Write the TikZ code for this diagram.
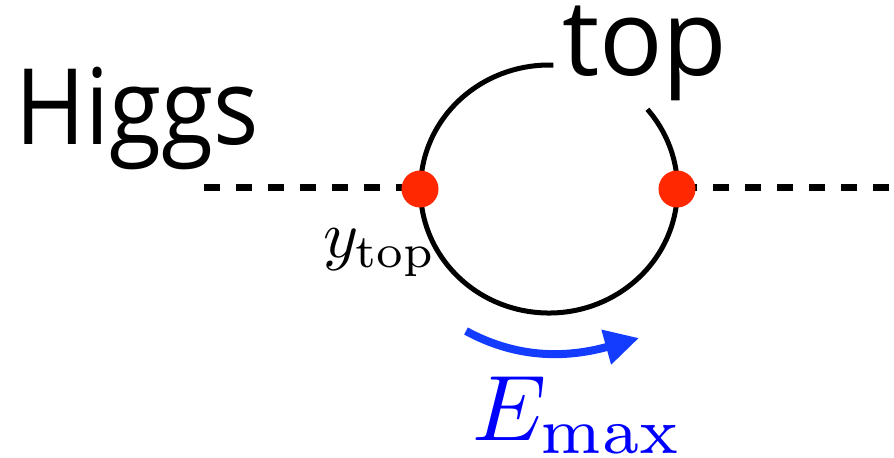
\documentclass[tikz,border=0pt]{standalone}
\usepackage{fontspec}
\setsansfont{Open Sans}
\usepackage{graphicx}
\usetikzlibrary{arrows.meta}
\definecolor{vred}{RGB}{255,40,0}
\definecolor{eblue}{RGB}{20,60,255}
\begin{document}
\begin{tikzpicture}[x=0.01cm,y=-0.01cm,
  lbl/.style={inner sep=0pt, outer sep=0pt},
  vertex/.style={circle, fill=vred, minimum size=0.37cm, inner sep=0pt},
  scalar/.style={line width=0.07cm, dash pattern=on 0.16cm off 0.16cm},
  fermion/.style={line width=0.05cm},
  flow/.style={draw=eblue, line width=0.08cm, -{Triangle[length=0.34cm,width=0.34cm]}},
  bigsans/.style={font=\fontsize{30}{30}\selectfont\sffamily}]
\useasboundingbox (0,0) rectangle (894,457);
\coordinate (hL) at (204,187);
\coordinate (hLe) at (412,187);
\coordinate (hRs) at (681,187);
\coordinate (hR) at (889,187);
\draw[scalar] (hL) -- (hLe);
\draw[scalar] (hRs) -- (hR);
\coordinate (loopstart) at (647.4,109.3);
\draw[fermion] (loopstart) arc[start angle=-40, end angle=272, x radius=128.5, y radius=124];
\node[vertex] (v1) at (420,189) {};
\node[vertex] (v2) at (677,189) {};
\node[lbl, bigsans, anchor=base west] (higgs) at (15,144) {\scalebox{0.9}[1]{Higgs}};
\node[lbl, bigsans, anchor=base west] (top) at (562,75) {top};
\node[lbl, anchor=base west] (yt) at (323,257) {\scalebox{1.9}{$y_{\mathrm{top}}$}};
\coordinate (fs) at (466,331);
\coordinate (fe) at (639,338);
\draw[flow] (fs) .. controls (512,356) and (560,360) .. (fe);
\node[lbl, anchor=base west, text=blue] (emax) at (472,440) {\scalebox{2.65}{$E_{\max}$}};
\end{tikzpicture}
\end{document}
